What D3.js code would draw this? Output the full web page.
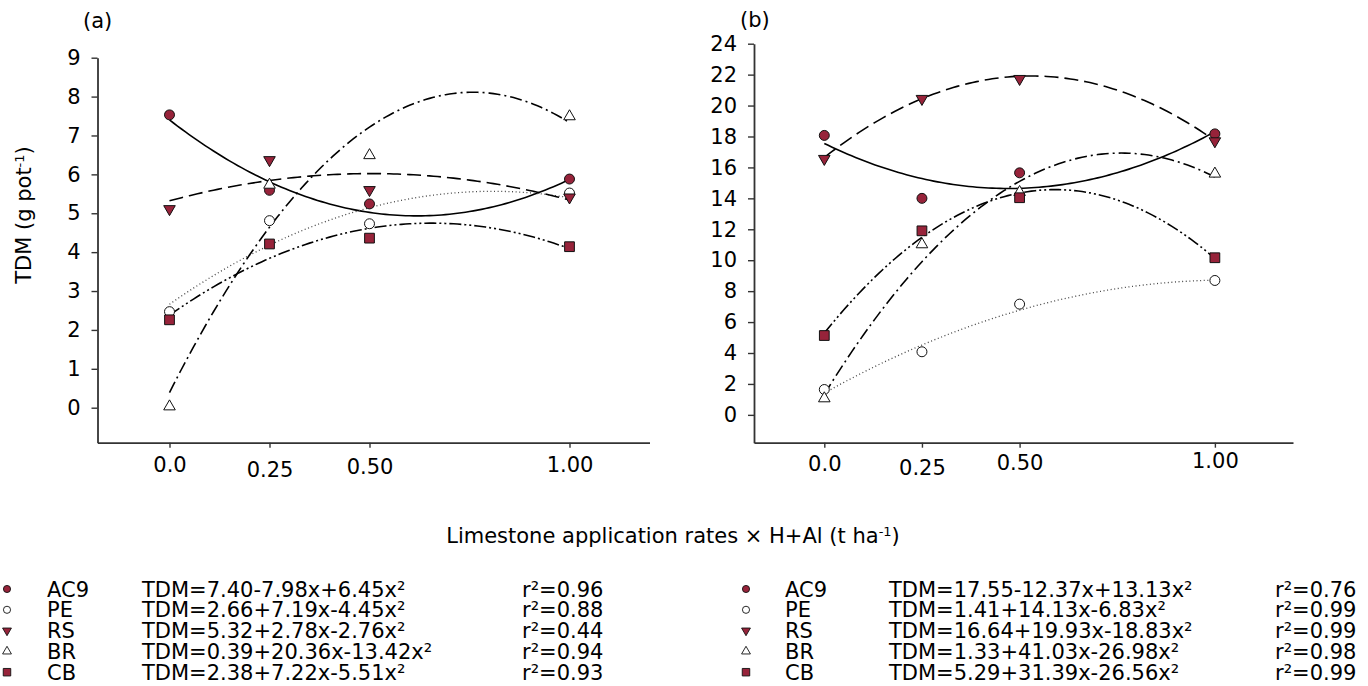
<!DOCTYPE html>
<html>
<head>
<meta charset="utf-8">
<script src="https://cdn.jsdelivr.net/npm/d3@7"></script>
<style>
  body { margin: 0; background: #fff; }
  svg text { font-family: "DejaVu Sans", sans-serif; font-size: 21px; fill: #000; }
</style>
</head>
<body>
<svg id="chart" width="1368" height="686"></svg>
<script>
// genotypes, x positions and tick labels
const genotypes = ["AC9", "PE", "RS", "BR", "CB"];
const rates = [0, 0.25, 0.5, 1.0];
const rateLabels = ["0.0", "0.25", "0.50", "1.00"];
const yTicksA = [0, 1, 2, 3, 4, 5, 6, 7, 8, 9];
const yTicksB = [0, 2, 4, 6, 8, 10, 12, 14, 16, 18, 20, 22, 24];

// observed TDM, panel (a), one row per genotype
const tdmA = [
  [7.53, 5.59, 5.24, 5.88],
  [2.47, 4.81, 4.73, 5.52],
  [5.11, 6.37, 5.60, 5.41],
  [0.03, 5.73, 6.49, 7.49],
  [2.26, 4.21, 4.36, 4.14]
];
// observed TDM, panel (b)
const tdmB = [
  [18.07, 14.00, 15.65, 18.17],
  [1.64, 4.08, 7.16, 8.69],
  [16.56, 20.44, 21.73, 17.70],
  [1.06, 11.02, 14.40, 15.59],
  [5.13, 11.90, 14.04, 10.16]
];

// fitted quadratics b0 + b1 x + b2 x^2 and r2
const coefA = [
  [7.40, -7.98, 6.45],
  [2.66, 7.19, -4.45],
  [5.32, 2.78, -2.76],
  [0.39, 20.36, -13.42],
  [2.38, 7.22, -5.51]
];
const r2A = [0.96, 0.88, 0.44, 0.94, 0.93];
const coefB = [
  [17.55, -12.37, 13.13],
  [1.41, 14.13, -6.83],
  [16.64, 19.93, -18.83],
  [1.33, 41.03, -26.98],
  [5.29, 31.39, -26.56]
];
const r2B = [0.76, 0.99, 0.99, 0.98, 0.99];

const red = "#97233a";
const symbols = [
  { type: d3.symbolCircle, size: 78, fill: red, rot: 0 },
  { type: d3.symbolCircle, size: 78, fill: "#fff", rot: 0 },
  { type: d3.symbolTriangle, size: 58, fill: red, rot: 180 },
  { type: d3.symbolTriangle, size: 58, fill: "#fff", rot: 0 },
  { type: d3.symbolSquare, size: 95, fill: red, rot: 0 }
];
const dashes = ["none", "1,2.6", "14,6", "12,4,2,4", "12,3,2,3,2,3"];
const labelShift = [[0, 5, 2, 0], [-1, 3, -2, -4]];

const svg = d3.select("#chart");

function fmtEq(c) {
  const s = v => (v < 0 ? "-" : "+") + Math.abs(v).toFixed(2);
  return "TDM=" + c[0].toFixed(2) + s(c[1]) + "x" + s(c[2]) + "x\u00b2";
}

function panel(opt) {
  const x = d3.scaleLinear().domain([-0.18, 1.2]).range(opt.xr);
  const y = d3.scaleLinear().domain(opt.yd).range([442.7, opt.ytop]);
  const g = svg.append("g");

  // y axis
  const ya = g.append("g").attr("transform", `translate(${opt.xr[0]},0)`)
    .call(d3.axisLeft(y).tickValues(opt.yticks).tickSize(6).tickPadding(11).tickSizeOuter(0));
  ya.select(".domain").attr("stroke", "#333").attr("stroke-width", 1.8);
  ya.selectAll(".tick line").attr("stroke", "#333").attr("stroke-width", 1.4);
  ya.selectAll("text").attr("font-size", 21).attr("font-family", "DejaVu Sans");

  // x axis
  const xa = g.append("g").attr("transform", "translate(0,442.7)")
    .call(d3.axisBottom(x).tickValues(rates).tickSize(5).tickPadding(9).tickSizeOuter(0)
      .tickFormat((d, i) => rateLabels[i]));
  xa.select(".domain").attr("stroke", "#333").attr("stroke-width", 1.8);
  xa.selectAll(".tick line").attr("stroke", "#333").attr("stroke-width", 1.4);
  xa.selectAll("text").attr("font-size", 21).attr("font-family", "DejaVu Sans")
    .attr("dy", (d, i) => (0.71 * 21 + opt.shift[i]) + "px");

  // fitted curves
  const xs = d3.range(0, 1.0001, 0.01);
  const line = d3.line().x(d => x(d[0])).y(d => y(d[1]));
  opt.coef.forEach((c, k) => {
    g.append("path")
      .datum(xs.map(v => [v, c[0] + c[1] * v + c[2] * v * v]))
      .attr("d", line)
      .attr("fill", "none")
      .attr("stroke", k === 1 ? "#444" : "#000")
      .attr("stroke-width", k === 1 ? 1.3 : 1.6)
      .attr("stroke-dasharray", dashes[k]);
  });

  // observed points
  opt.data.forEach((row, k) => {
    const s = symbols[k];
    g.selectAll(null).data(row).enter().append("path")
      .attr("d", d3.symbol().type(s.type).size(s.size))
      .attr("transform", (d, i) => `translate(${x(rates[i])},${y(d)}) rotate(${s.rot})`)
      .attr("fill", s.fill)
      .attr("stroke", "#111")
      .attr("stroke-width", 1);
  });

  g.append("text").attr("x", opt.tag[0]).attr("y", opt.tag[1]).text(opt.label);
}

panel({ xr: [97.5, 649.5], yd: [-0.9, 9], ytop: 57.7, yticks: yTicksA,
  data: tdmA, coef: coefA, shift: labelShift[0], label: "(a)", tag: [83, 28] });
panel({ xr: [754, 1293], yd: [-1.8, 24], ytop: 43.7, yticks: yTicksB,
  data: tdmB, coef: coefB, shift: labelShift[1], label: "(b)", tag: [740, 27] });

// axis titles
const yl = svg.append("text")
  .attr("transform", "translate(31,215) rotate(-90)")
  .attr("text-anchor", "middle");
yl.append("tspan").text("TDM (g pot");
yl.append("tspan").attr("font-size", 13).attr("baseline-shift", "7px").text("-1");
yl.append("tspan").text(")");

const xl = svg.append("text").attr("x", 673).attr("y", 543).attr("text-anchor", "middle");
xl.append("tspan").text("Limestone application rates \u00d7 H+Al (t ha");
xl.append("tspan").attr("font-size", 13).attr("baseline-shift", "7px").text("-1");
xl.append("tspan").text(")");

// legends
const legendSymbols = [
  { type: d3.symbolCircle, size: 40 },
  { type: d3.symbolCircle, size: 40 },
  { type: d3.symbolTriangle, size: 34 },
  { type: d3.symbolTriangle, size: 34 },
  { type: d3.symbolSquare, size: 56 }
];
function legend(x0, cols, coef, r2) {
  genotypes.forEach((name, k) => {
    const yy = 589 + k * 20.8;
    const s = symbols[k];
    svg.append("path")
      .attr("d", d3.symbol().type(legendSymbols[k].type).size(legendSymbols[k].size))
      .attr("transform", `translate(${x0},${yy}) rotate(${s.rot})`)
      .attr("fill", s.fill).attr("stroke", "#111").attr("stroke-width", 0.9);
    svg.append("text").attr("x", cols[0]).attr("y", yy).attr("dy", "0.36em").text(name);
    svg.append("text").attr("x", cols[1]).attr("y", yy).attr("dy", "0.36em").text(fmtEq(coef[k]));
    svg.append("text").attr("x", cols[2]).attr("y", yy).attr("dy", "0.36em")
      .text("r\u00b2=" + r2[k].toFixed(2));
  });
}
legend(7, [47, 142, 522], coefA, r2A);
legend(746, [785, 889, 1275], coefB, r2B);
</script>
</body>
</html>
